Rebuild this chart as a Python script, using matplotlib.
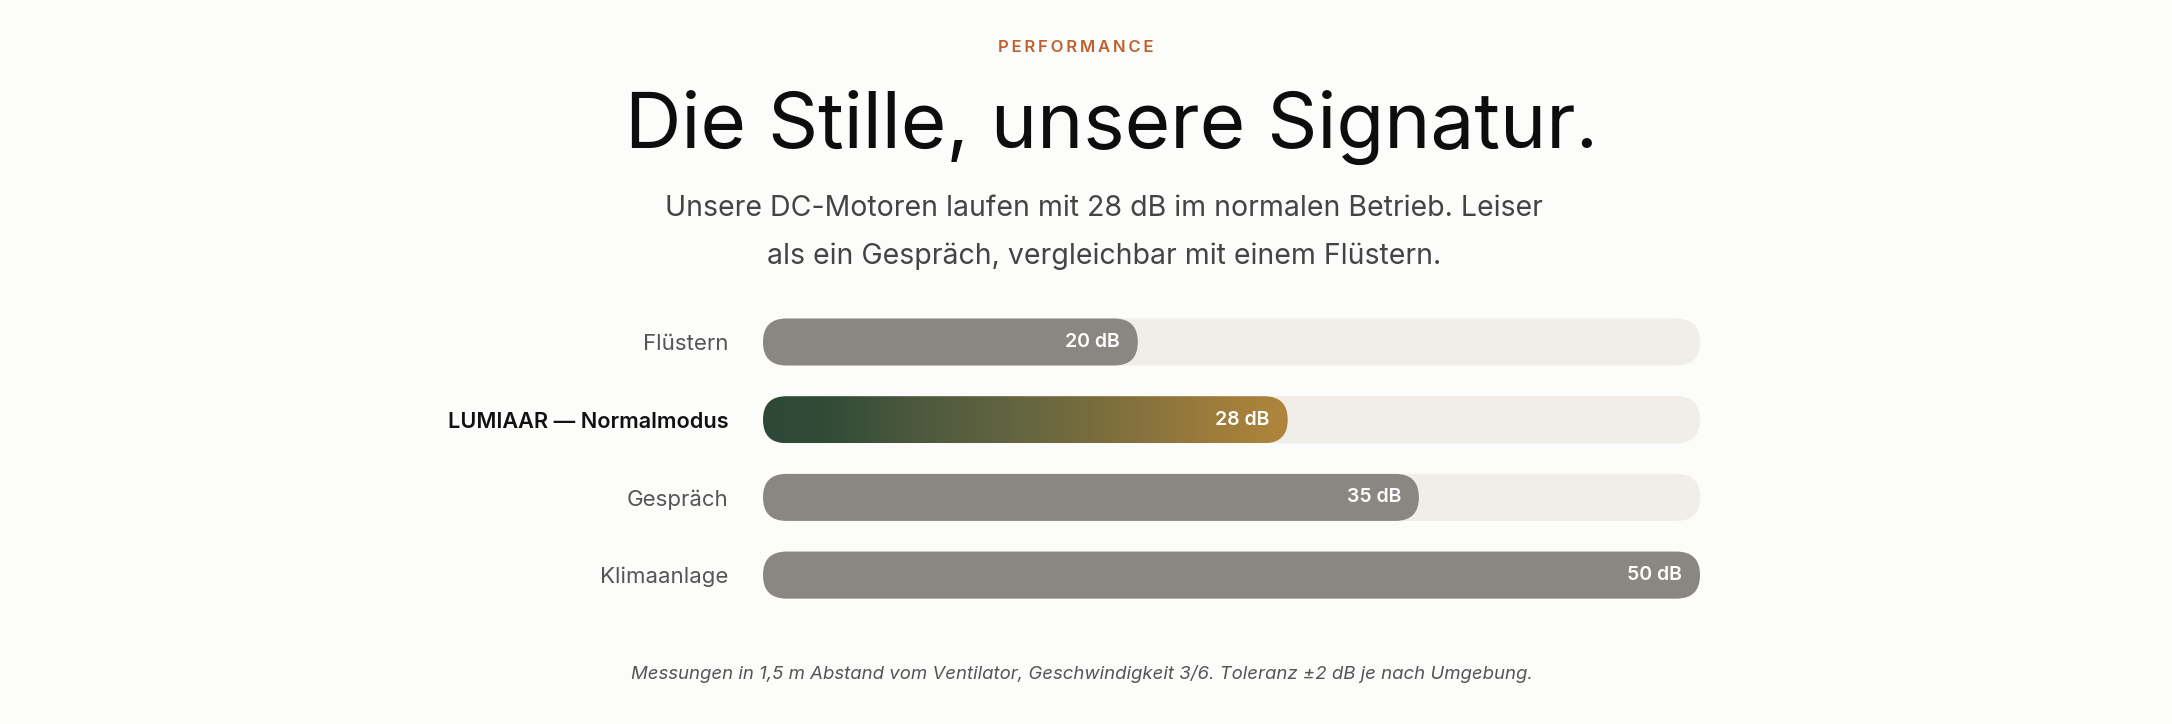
import matplotlib
matplotlib.use('Agg')
import matplotlib.pyplot as plt
import numpy as np
from matplotlib.patches import FancyBboxPatch
from matplotlib.colors import LinearSegmentedColormap
import matplotlib.transforms as mtransforms

# data
categories = ["Flüstern", "LUMIAAR — Normalmodus", "Gespräch", "Klimaanlage"]
values_db = [20, 28, 35, 50]
highlight = 1
scale_max = 50

eyebrow = "PERFORMANCE"
title = "Die Stille, unsere Signatur."
subtitle = ["Unsere DC-Motoren laufen mit 28 dB im normalen Betrieb. Leiser",
            "als ein Gespräch, vergleichbar mit einem Flüstern."]
footnote = "Messungen in 1,5 m Abstand vom Ventilator, Geschwindigkeit 3/6. Toleranz ±2 dB je nach Umgebung."

W, H, DPI = 2172, 724, 100
bg = "#fcfcfb"
track_col = "#f1eee9"
bar_col = "#8a8681"
grad = LinearSegmentedColormap.from_list(
    "lum", [(0, "#2d4836"), (0.12, "#314b37"), (0.3, "#4d593d"), (0.5, "#666641"),
            (0.65, "#7c6d3e"), (0.85, "#9c7b3c"), (1, "#b0863b")])

fig = plt.figure(figsize=(W / DPI, H / DPI), dpi=DPI, facecolor=bg)

# bar area in pixels
left_px, right_px = 763, 1700
top_px, bot_px = 300, 620
row0_px, row_gap_px = 342, 77.7
bar_h_px = 47

ax = fig.add_axes([left_px / W, 1 - bot_px / H, (right_px - left_px) / W, (bot_px - top_px) / H])
ax.set_facecolor("none")
y_top = -(row0_px - top_px) / row_gap_px
y_bot = y_top + (bot_px - top_px) / row_gap_px

xu = scale_max / (right_px - left_px)   # x units per px
yu = 1 / row_gap_px                      # y units per px
bh = bar_h_px * yu
r = bar_h_px / 2 * xu
asp = yu / xu

rows = np.arange(len(categories))


def pill(x0, w, y, color, z=1):
    p = FancyBboxPatch((x0, y - bh / 2), w, bh,
                       boxstyle=f"round,pad=0,rounding_size={r}",
                       mutation_aspect=asp, fc=color, ec="none", zorder=z)
    ax.add_patch(p)
    return p


for i, v in zip(rows, values_db):
    pill(0, scale_max, i, track_col)
    if i == highlight:
        p = pill(0, v, i, "none", z=2)
        g = np.linspace(0, 1, 256).reshape(1, -1)
        im = ax.imshow(g, cmap=grad, aspect="auto", extent=[0, v, i + bh / 2, i - bh / 2],
                       interpolation="bicubic", zorder=2)
        im.set_clip_path(p)
    else:
        pill(0, v, i, bar_col, z=2)

ax.set_xlim(0, scale_max)
ax.set_ylim(y_bot, y_top)

off = mtransforms.offset_copy(ax.transData, fig=fig, x=-18, y=0, units="dots")
for i, v in zip(rows, values_db):
    ax.text(v, i, f"{v} dB", transform=off, ha="right", va="center", zorder=3,
            color="white", fontsize=14, fontweight="semibold", family="Inter")

ax.set_yticks(rows, categories)
ax.tick_params(axis="y", length=0, pad=25, labelsize=16, labelcolor="#555555")
for lab in ax.get_yticklabels():
    lab.set_family("Inter")
hl = ax.get_yticklabels()[highlight]
hl.set_color("#111111")
hl.set_fontweight("semibold")
hl.set_fontsize(15.6)
ax.set_xticks([])
for s in ax.spines.values():
    s.set_visible(False)

fig.text(0.5 - 10 / W, 1 - 47 / H, "\u2009".join(eyebrow),
         ha="center", va="center", color="#c0602e", fontsize=12, fontweight="semibold",
         family="Inter")
fig.text(0.5 + 26 / W, 1 - 127 / H, title, ha="center", va="center", color="#0d0d0d",
         fontsize=56.3, family="Inter")
for k, line in enumerate(subtitle):
    fig.text(0.5 + 18 / W, 1 - (209 + 47 * k) / H, line, ha="center", va="center",
             color="#444444", fontsize=20.5, family="Inter")
fig.text(0.5 - 4 / W, 1 - 674 / H, footnote, ha="center", va="center", color="#555555",
         fontsize=13.4, style="italic", family="Inter")

fig.savefig("out.png", dpi=DPI, facecolor=bg)
